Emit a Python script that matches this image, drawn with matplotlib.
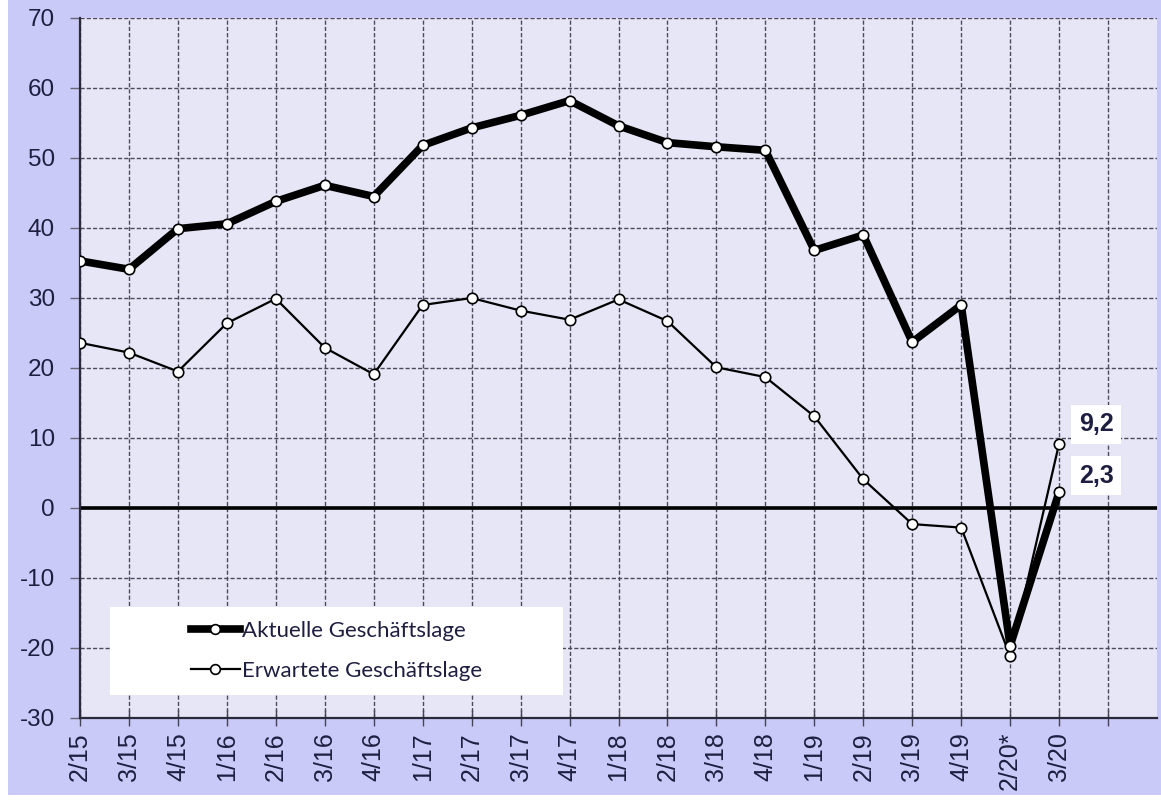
import numpy as np
import matplotlib
matplotlib.use("Agg")
import matplotlib.pyplot as plt
from matplotlib.patches import Rectangle
from matplotlib.lines import Line2D

# quarters (x axis), one empty slot at the end
quarters = ["2/15", "3/15", "4/15", "1/16", "2/16", "3/16", "4/16",
            "1/17", "2/17", "3/17", "4/17", "1/18", "2/18", "3/18", "4/18",
            "1/19", "2/19", "3/19", "4/19", "2/20*", "3/20"]

aktuell = [35.3, 34.1, 39.9, 40.6, 43.8, 46.1, 44.5,
           51.8, 54.3, 56.1, 58.2, 54.6, 52.2, 51.6, 51.1,
           36.8, 39.0, 23.7, 29.0, -19.7, 2.3]

erwartet = [23.6, 22.2, 19.5, 26.4, 29.9, 22.9, 19.1,
            29.0, 30.0, 28.2, 26.9, 29.8, 26.7, 20.1, 18.7,
            13.1, 4.1, -2.3, -2.8, -21.2, 9.2]

legend_labels = ["Aktuelle Geschäftslage", "Erwartete Geschäftslage"]

bg_outer = "#CACAF9"
bg_inner = "#E6E6F7"
txt_col = "#1E1E40"
grid_col = "#4A4A5C"

plt.rcParams['font.family'] = ['Liberation Sans', 'DejaVu Sans']
plt.rcParams['axes.unicode_minus'] = False

fig = plt.figure(figsize=(11.61, 8.01), dpi=100)
fig.patch.set_facecolor(bg_outer)
# thin white frame strips like in the scan
fig.patches.append(Rectangle((0, 0), 8 / 1161, 1, transform=fig.transFigure,
                             facecolor="white", edgecolor="none", zorder=0))
fig.patches.append(Rectangle((0, 0), 1, 6 / 801, transform=fig.transFigure,
                             facecolor="white", edgecolor="none", zorder=0))

ax = fig.add_axes([80 / 1161, (801 - 718) / 801, 1077 / 1161, 700 / 801])
ax.set_facecolor(bg_inner)

x = np.arange(len(quarters))

ax.plot(x, erwartet, color="black", lw=1.6, marker="o", ms=7.5,
        mfc="white", mec="black", mew=1.2, zorder=3)
ax.plot(x, aktuell, color="black", lw=5.5, marker="o", ms=7.5,
        mfc="white", mec="black", mew=1.2, zorder=4)

ax.axhline(0, color="black", lw=2.6, zorder=2)

ax.set_xlim(0, 22)
ax.set_ylim(-30, 70)
ax.set_yticks(np.arange(-30, 71, 10))
ax.set_xticks(np.arange(22))
ax.set_xticklabels(quarters + [""], rotation=90)

ax.set_axisbelow(True)
ax.grid(True, color=grid_col, lw=1.0, linestyle=(0, (3, 1.5)))

for s in ["top", "right"]:
    ax.spines[s].set_visible(False)
for s in ["left", "bottom"]:
    ax.spines[s].set_color("#2A2A3A")
    ax.spines[s].set_linewidth(1.6)

ax.tick_params(axis="x", direction="inout", length=12, width=1, color="#444455",
               labelsize=18, labelcolor=txt_col, pad=4)
ax.tick_params(axis="y", direction="out", length=7, width=1, color="#666677",
               labelsize=17.5, labelcolor=txt_col, pad=11)

# value labels for the last quarter
ax.annotate("9,2", (x[-1], erwartet[-1]), xytext=(26.6, 14), textcoords="offset points",
            ha="center", va="center", fontsize=18, fontweight="bold", color=txt_col,
            bbox=dict(boxstyle="square,pad=0.3", fc="white", ec="none"), zorder=6)
ax.annotate("2,3", (x[-1], aktuell[-1]), xytext=(26.6, 11.7), textcoords="offset points",
            ha="center", va="center", fontsize=18, fontweight="bold", color=txt_col,
            bbox=dict(boxstyle="square,pad=0.3", fc="white", ec="none"), zorder=6)

# legend on a white box
lx0, ly0, lw_, lh_ = 30 / 1077, 23 / 700, 453 / 1077, 88 / 700
ax.add_patch(Rectangle((lx0, ly0), lw_, lh_, transform=ax.transAxes,
                       facecolor="white", edgecolor="none", zorder=5))
handles = [
    Line2D([], [], color="black", lw=5.5, marker="o", ms=7, mfc="white", mec="black", mew=1.2),
    Line2D([], [], color="black", lw=1.6, marker="o", ms=7, mfc="white", mec="black", mew=1.2),
]
leg = ax.legend(handles, legend_labels, loc="center", frameon=False,
                bbox_to_anchor=(lx0 + lw_ / 2, ly0 + lh_ / 2), bbox_transform=ax.transAxes,
                handlelength=2.2, handletextpad=0.1, labelspacing=0.9,
                prop=dict(family="Lato", size=16))
leg.set_zorder(7)
for t in leg.get_texts():
    t.set_color(txt_col)

fig.savefig("out.png", dpi=100, facecolor=fig.get_facecolor())
